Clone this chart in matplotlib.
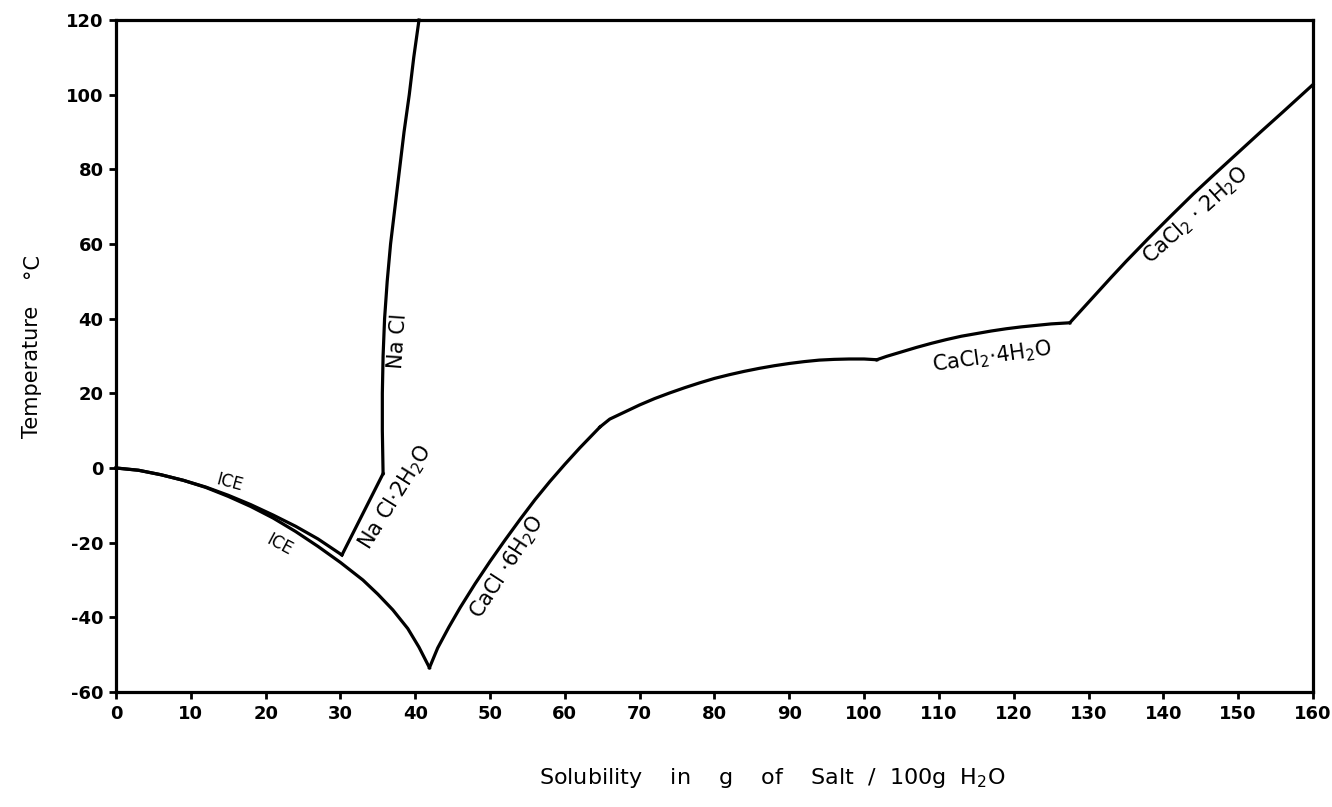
import numpy as np
import matplotlib
matplotlib.use("Agg")
import matplotlib.pyplot as plt

# 读图得到的各段曲线 (g 盐 / 100 g 水, °C)
ice_nacl_x = [0, 3, 6, 9, 12, 15, 18, 21, 24, 27, 30.2]
ice_nacl_y = [0, -0.6, -1.8, -3.3, -5.1, -7.3, -9.8, -12.6, -15.6, -19, -23.3]

ice_cacl_x = [0, 3, 6, 9, 12, 15, 18, 21, 24, 27, 30, 33, 35, 37, 39, 40.5, 41.9]
ice_cacl_y = [0, -0.6, -1.8, -3.3, -5.2, -7.6, -10.3, -13.4, -17, -21, -25.3,
              -30, -33.8, -38, -43, -48, -53.5]

nacl2h2o_x = [30.2, 35.7]
nacl2h2o_y = [-23.3, -1.5]

nacl_x = [35.7, 35.6, 35.6, 35.7, 35.9, 36.25, 36.7, 37.3, 37.9, 38.5, 39.2, 39.8, 40.5]
nacl_y = [-1.5, 10, 20, 30, 40, 50, 60, 70, 80, 90, 100, 110, 120]

cacl6_x = [41.9, 43, 44.5, 46, 48, 50, 52, 54, 56, 58, 60, 62, 64.7]
cacl6_y = [-53.5, -48.2, -42.6, -37.4, -31, -25, -19.3, -13.8, -8.5, -3.6, 1.0, 5.4, 11]

cacl_mid_x = [64.7, 66, 68, 70, 72, 74, 76, 78, 80, 82, 84, 86, 88, 90, 92, 94,
              96, 98, 100, 101.7]
cacl_mid_y = [11, 13.1, 15.0, 16.9, 18.6, 20.1, 21.5, 22.8, 24.0, 25.0, 25.9, 26.7,
              27.4, 28.0, 28.5, 28.9, 29.1, 29.2, 29.2, 29]

cacl4_x = [101.7, 103, 105, 107, 109, 111, 113, 115, 117, 119, 121, 123, 125, 127.5]
cacl4_y = [29, 29.9, 31.1, 32.3, 33.4, 34.4, 35.3, 36.0, 36.7, 37.3, 37.8, 38.2,
           38.6, 38.9]

cacl2_x = [127.5, 129, 131, 133, 135, 138, 141, 144, 147, 150, 153, 156, 160]
cacl2_y = [38.9, 42.2, 46.6, 51.0, 55.3, 61.5, 67.5, 73.4, 79, 84.5, 90, 95.4, 102.7]

x_ticks = list(range(0, 161, 10))
y_ticks = list(range(-60, 121, 20))

plt.rcParams["font.family"] = ["DejaVu Sans"]
plt.rcParams["axes.unicode_minus"] = False

fig = plt.figure(figsize=(13.32, 8.07), dpi=100)
ax = fig.add_axes([0.0871, 0.1425, 0.8986, 0.8327])

lw = 2.3
for xs, ys in [(ice_nacl_x, ice_nacl_y), (ice_cacl_x, ice_cacl_y),
               (nacl2h2o_x, nacl2h2o_y), (nacl_x, nacl_y),
               (cacl6_x, cacl6_y), (cacl_mid_x, cacl_mid_y),
               (cacl4_x, cacl4_y), (cacl2_x, cacl2_y)]:
    ax.plot(xs, ys, color="black", lw=lw, solid_joinstyle="round", clip_on=False)

ax.set_xlim(0, 160)
ax.set_ylim(-60, 120)
ax.set_xticks(x_ticks)
ax.set_yticks(y_ticks)
for s in ax.spines.values():
    s.set_linewidth(2.3)
ax.tick_params(direction="out", length=5, width=2, labelsize=13, pad=4)
for lab in ax.get_xticklabels() + ax.get_yticklabels():
    lab.set_fontweight("bold")

# 曲线上的标注
fs = 15
ax.text(37.7, 34, "Na Cl", rotation=86, fontsize=fs, ha="center", va="center")
ax.text(37.3, -8, r"Na Cl$\cdot$2H$_2$O", rotation=58, fontsize=fs,
        ha="center", va="center")
ax.text(15.2, -3.8, "ICE", rotation=-15, fontsize=12, ha="center", va="center")
ax.text(21.9, -20.6, "ICE", rotation=-28, fontsize=12, ha="center", va="center")
ax.text(52.3, -26.5, r"CaCl $\cdot$6H$_2$O", rotation=57, fontsize=fs,
        ha="center", va="center")
ax.text(117.1, 29.8, r"CaCl$_2$$\cdot$4H$_2$O", rotation=8, fontsize=fs,
        ha="center", va="center")
ax.text(144.3, 67.8, r"CaCl$_2$ $\cdot$ 2H$_2$O", rotation=42, fontsize=fs,
        ha="center", va="center")

# 坐标轴标题
fig.text(0.024, 1 - 372 / 807, "Temperature", rotation=90, fontsize=15,
         ha="center", va="center")
fig.text(0.024, 1 - 266 / 807, "°C", rotation=90, fontsize=15,
         ha="center", va="center")
fig.text(0.580, 1 - 778 / 807, r"Solubility    in    g    of    Salt  /  100g  H$_2$O",
         fontsize=16, ha="center", va="center")

fig.savefig("out.png", dpi=100)
